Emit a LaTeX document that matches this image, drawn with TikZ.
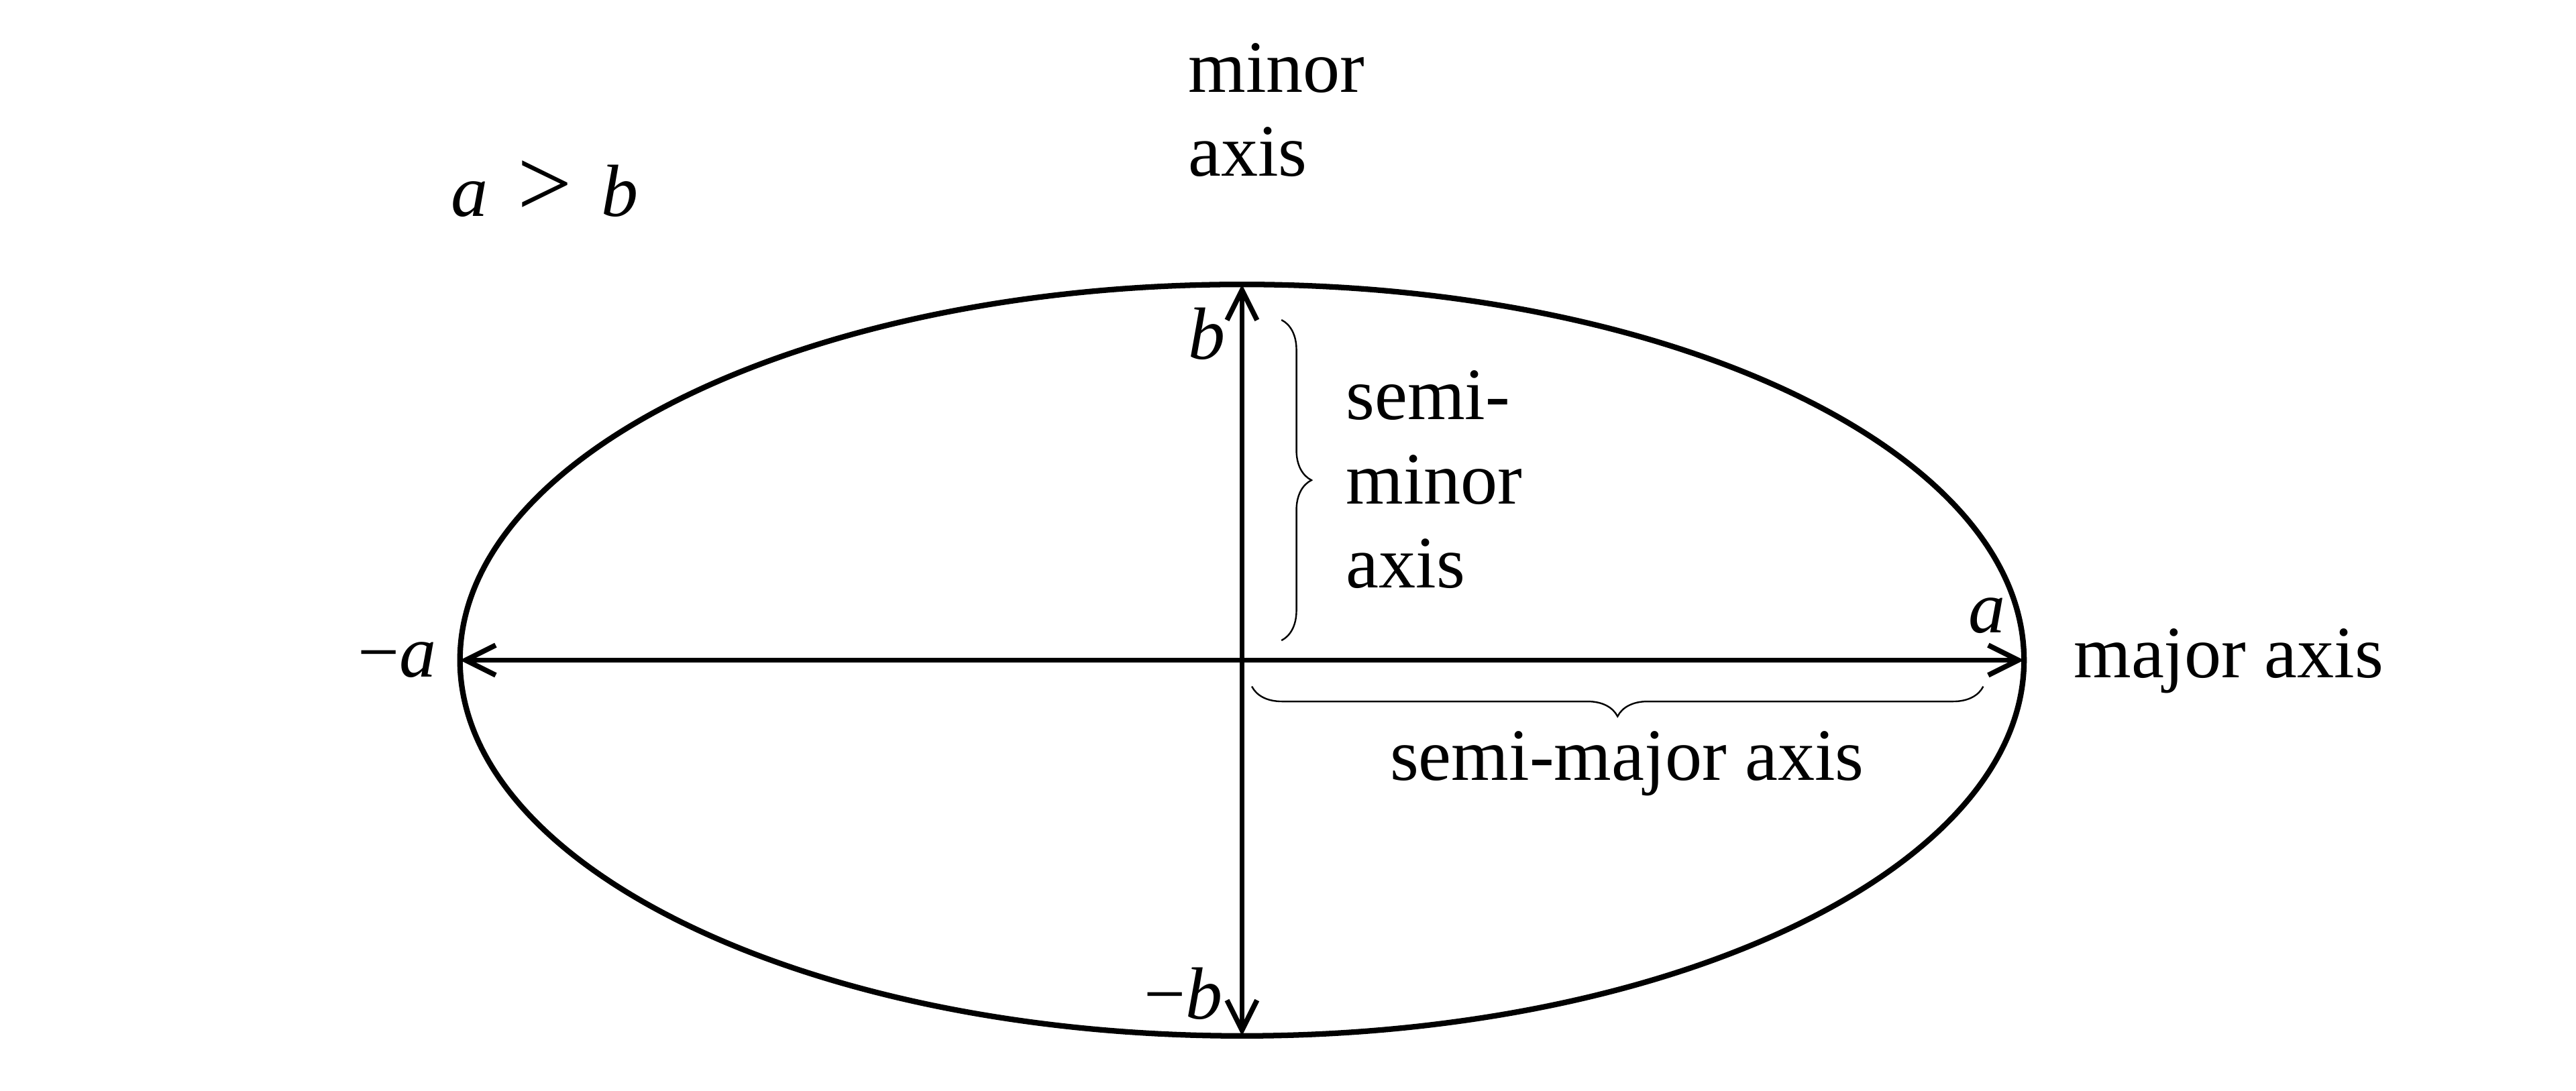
\documentclass[tikz,border=0pt]{standalone}
\usepackage{fontspec}
\setmainfont{Liberation Serif}
\usetikzlibrary{arrows.meta,positioning,decorations.pathreplacing}
\tikzset{
  axisline/.style={line width=2.2pt, {Straight Barb[length=13pt,width=13pt]}-{Straight Barb[length=13pt,width=13pt]}},
  curlybrace/.style={decorate, decoration={brace, amplitude=13pt}, line width=0.7pt},
  lbl/.style={inner sep=0pt, font=\fontsize{32}{36.5}\selectfont}
}
\newcommand{\var}[1]{\textit{#1}}

\begin{document}
\begin{tikzpicture}
    \useasboundingbox (-18.9,-6.55) rectangle (20.3,10.05);

    \coordinate (centre) at (0,0);
    \coordinate (top) at (0,5.72);
    \coordinate (bottom) at (0,-5.72);
    \coordinate (left) at (-11.9,0);
    \coordinate (right) at (11.9,0);

    \draw[line width=2.4pt] (centre) ellipse [x radius=11.9cm, y radius=5.72cm];
    \draw[axisline] (left) -- (right);
    \draw[axisline] (top) -- (bottom);

    % braces
    \coordinate (minortop) at (0.6,5.18);
    \coordinate (minorend) at (0.6,0.3);
    \coordinate (majorend) at (11.28,-0.4);
    \coordinate (majorstart) at (0.15,-0.4);
    \draw[curlybrace] (minortop) -- (minorend);
    \draw[curlybrace] (majorend) -- (majorstart);

    \node[lbl] (aboverb) at (-10.61,7.18) {\var{a}\hspace{0.4em}{\fontsize{42}{42}\selectfont >}\hspace{0.4em}\var{b}};
    \node[lbl, align=left, anchor=south west] (minoraxis) at (-0.825,7.35) {minor\\axis};
    \node[lbl, align=left, anchor=west] (semiminor) at (1.575,2.75) {semi-\\minor\\axis};
    \node[lbl, anchor=base] (semimajor) at (5.86,-1.83) {semi-major axis};

    \node[lbl, left=0.35cm of left] (minusa) {−\var{a}};
    \node[lbl, above left=0.4cm and 0.27cm of right] (plusa) {\var{a}};
    \node[lbl, anchor=base west] (majoraxis) at (12.65,-0.27) {major axis};
    \node[lbl, below left=0.35cm and 0.25cm of top] (plusb) {\var{b}};
    \node[lbl, above left=0.24cm and 0.29cm of bottom] (minusb) {−\var{b}};
\end{tikzpicture}
\end{document}
